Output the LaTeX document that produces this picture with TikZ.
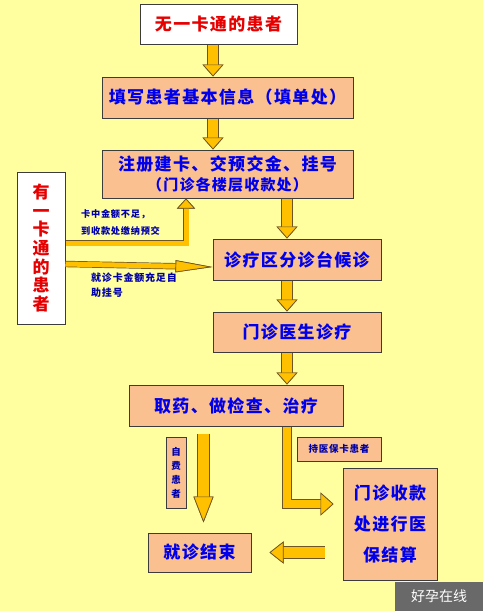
\documentclass[tikz,border=0pt]{standalone}
\usepackage{fontspec}
\setmainfont[LetterSpace=8]{Noto Sans CJK SC}
\newfontfamily\markfont{Noto Sans CJK SC}
\usetikzlibrary{arrows.meta, positioning, calc}
\definecolor{bgyellow}{RGB}{255,255,160}
\definecolor{boxpeach}{RGB}{250,192,143}
\definecolor{boxedge}{RGB}{60,60,60}
\definecolor{txtblue}{RGB}{0,0,235}
\definecolor{tagblue}{RGB}{0,0,170}
\definecolor{txtred}{RGB}{230,0,0}
\definecolor{arrgold}{RGB}{255,192,0}
\definecolor{arredge}{RGB}{110,85,40}
\definecolor{markgray}{RGB}{105,105,105}
\tikzset{
  stagebox/.style={rectangle, draw=boxedge, fill=boxpeach, line width=1pt,
    align=center, inner sep=1pt, text=txtblue,
    font=\fontsize{17}{20}\selectfont\bfseries},
  whitebox/.style={stagebox, fill=white, text=txtred},
  tagbox/.style={rectangle, draw=boxedge, fill=boxpeach, line width=0.8pt,
    align=center, inner sep=1pt, text=tagblue,
    font=\fontsize{9.5}{14}\selectfont\bfseries},
  tagtext/.style={align=left, inner sep=0pt, text=tagblue},
  blockarrow/.style n args={4}{line width=#1, draw=arrgold,
    preaction={draw=arredge, line width=#2},
    -{Triangle[width=#3, length=#4, line width=0.7pt, color=arredge, fill=arrgold]}}
}
\begin{document}
\begin{tikzpicture}[x=1pt, y=1pt]
  \fill[bgyellow] (0,0) rectangle (483,-611);
  \useasboundingbox (0,0) rectangle (483,-611);

  % main flow
  \node[whitebox, minimum width=157pt, minimum height=40pt] (nocard) at (218.5,-24) {无一卡通的患者};
  \node[stagebox, minimum width=251pt, minimum height=41pt, below=32pt of nocard, xshift=9pt] (fillin) {填写患者基本信息（填单处）};
  \node[stagebox, minimum width=251pt, minimum height=48pt, below=31pt of fillin] (register)
    {注册建卡、交预交金、挂号\\{\fontsize{15}{20}\selectfont（门诊各楼层收款处）}};
  \node[stagebox, minimum width=168pt, minimum height=41pt, below=40pt of register, xshift=69.5pt] (triage) {诊疗区分诊台候诊};
  \node[stagebox, minimum width=168pt, minimum height=40pt, below=31pt of triage] (doctor) {门诊医生诊疗};
  \node[stagebox, minimum width=214pt, minimum height=41pt, below=32pt of doctor, xshift=-61pt] (treat) {取药、做检查、治疗};
  \node[whitebox, minimum width=48pt, minimum height=152pt,
    font=\fontsize{17}{18.7}\selectfont\bfseries] (hascard) at (41,-248) {有\\一\\卡\\通\\的\\患\\者};

  % bottom part
  \node[tagbox, minimum width=20pt, minimum height=71pt] (selfpay) at (176,-472.5) {自\\费\\患\\者};
  \node[stagebox, minimum width=103pt, minimum height=39pt] (finish) at (199.5,-552.5) {就诊结束};
  \node[tagbox, minimum width=84pt, minimum height=24pt] (insured) at (339,-449) {持医保卡患者};
  \node[stagebox, minimum width=94pt, minimum height=112pt,
    font=\fontsize{17}{31}\selectfont\bfseries] (settle) at (390,-524) {门诊收款\\处进行医\\保结算};

  % side labels
  \node[tagtext, anchor=north west, font=\fontsize{9.2}{17}\selectfont\bfseries] (shortlbl) at (81,-209)
    {卡中金额不足，\\到收款处缴纳预交};
  \node[tagtext, anchor=north west, font=\fontsize{10}{15}\selectfont\bfseries] (enoughlbl) at (91,-273)
    {就诊卡金额充足自\\助挂号};

  \node[fill=markgray, minimum width=88pt, minimum height=29pt, inner sep=0pt, text=white,
    font=\markfont\fontsize{14}{16}\selectfont] (mark) at (439,-596.5) {好孕在线};

  \draw[blockarrow={10pt}{11.4pt}{21pt}{12pt}] ([xshift=-5.5pt]nocard.south) -- ([xshift=-14.5pt]fillin.north);
  \draw[blockarrow={10pt}{11.4pt}{21pt}{12pt}] ([xshift=-14.5pt]fillin.south) -- ([xshift=-14.5pt]register.north);
  \draw[blockarrow={10pt}{11.4pt}{21pt}{12pt}] ([xshift=59.5pt]register.south) -- ([xshift=-10pt]triage.north);
  \draw[blockarrow={10pt}{11.4pt}{21pt}{12pt}] ([xshift=-10pt]triage.south) -- ([xshift=-10pt]doctor.north);
  \draw[blockarrow={10pt}{11.4pt}{21pt}{12pt}] ([xshift=-10pt]doctor.south) -- ([xshift=51pt]treat.north);
  \draw[blockarrow={5pt}{6.4pt}{18pt}{10pt}] ([yshift=5pt]hascard.east) -| ([xshift=-41.5pt]register.south);
  \draw[blockarrow={5pt}{6.4pt}{12pt}{37pt}] ([yshift=-16pt]hascard.east) -- ([yshift=-7.5pt]triage.west);
  \draw[blockarrow={11pt}{12.4pt}{20pt}{26pt}] ([xshift=-32.5pt,yshift=-7pt]treat.south) -- ([xshift=4pt,yshift=10pt]finish.north);
  \draw[blockarrow={8pt}{9.4pt}{23pt}{13pt}] ([xshift=51pt]treat.south) |- ([xshift=-9pt,yshift=20pt]settle.west);
  \draw[blockarrow={11pt}{12.4pt}{22pt}{14pt}] ([xshift=-18pt,yshift=-28.5pt]settle.west) -- ([xshift=18pt]finish.east);
\end{tikzpicture}
\end{document}
